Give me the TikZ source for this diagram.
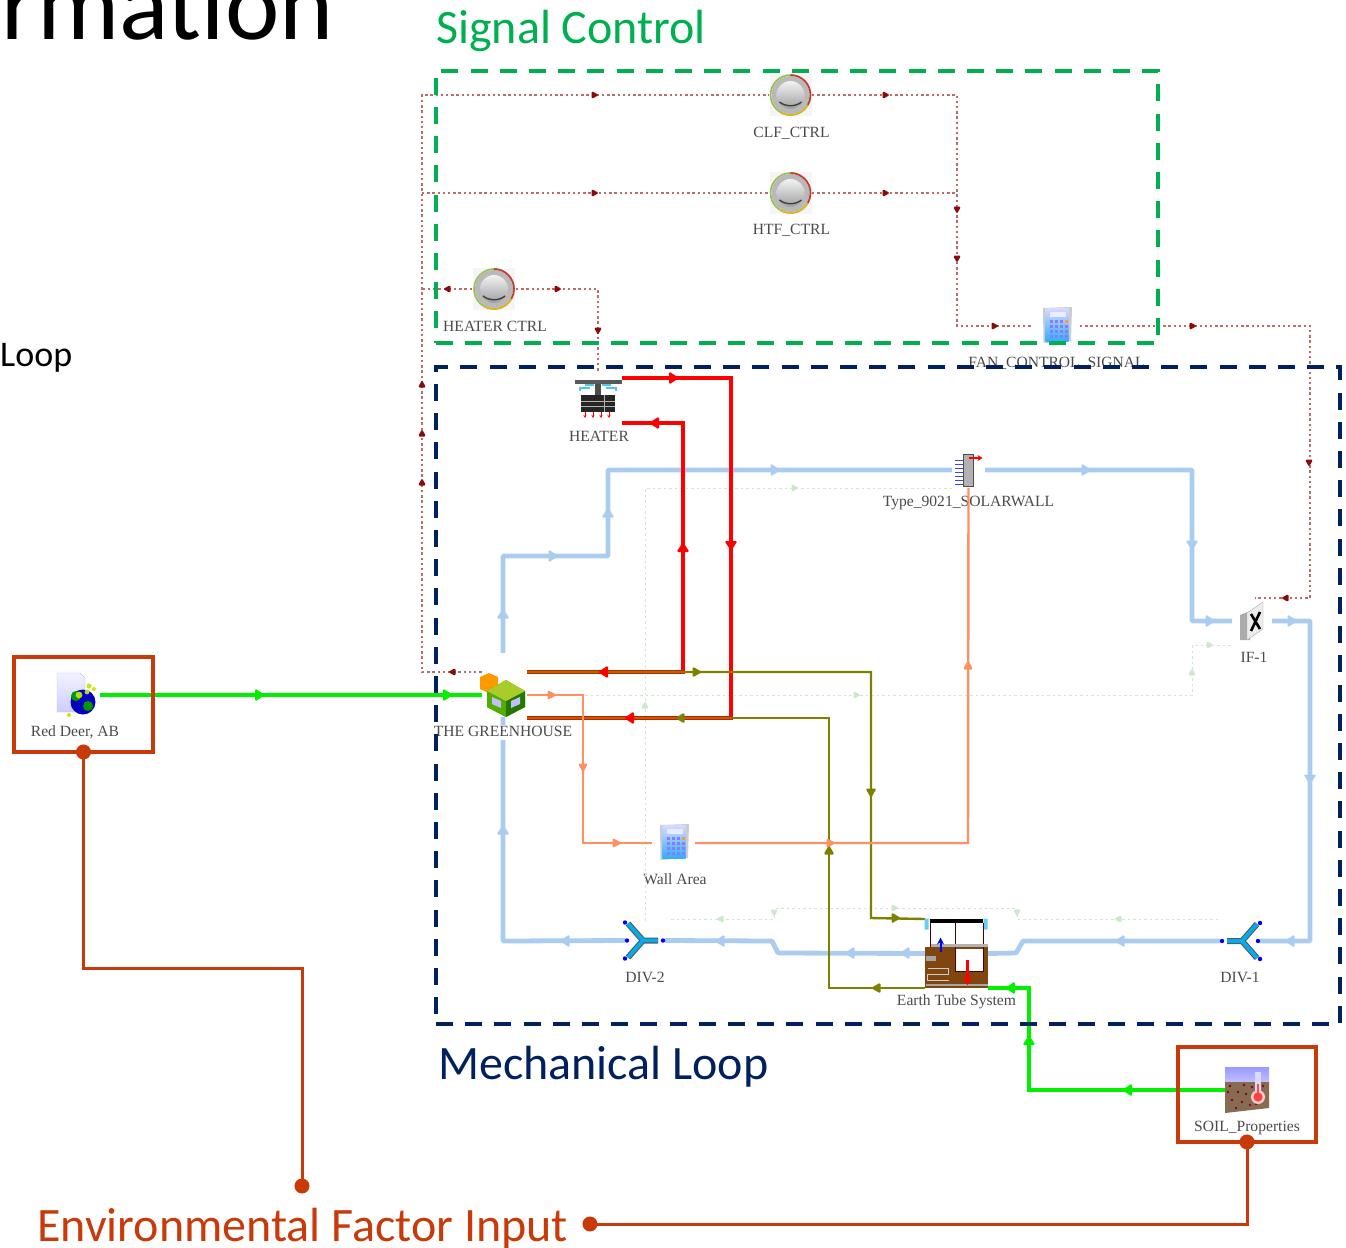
\documentclass[tikz,border=0pt]{standalone}
\usepackage{fontspec}
\setmainfont{Liberation Serif}
\newfontfamily\slidefont{Carlito}
\usetikzlibrary{arrows.meta}
\usetikzlibrary{positioning}
\definecolor{sigred}{HTML}{BC6A6A}
\definecolor{sigdark}{HTML}{8B0A0A}
\definecolor{airblue}{HTML}{A9CCF0}
\definecolor{hotred}{HTML}{FF0000}
\definecolor{liqolive}{HTML}{808000}
\definecolor{warmorange}{HTML}{FF9060}
\definecolor{earthlime}{HTML}{00F000}
\definecolor{faintgreen}{HTML}{CDE8CD}
\definecolor{groupgreen}{HTML}{00B050}
\definecolor{groupnavy}{HTML}{002060}
\definecolor{calloutred}{HTML}{C93A0A}
\definecolor{labgray}{HTML}{4A4A4A}
\definecolor{soilbrown}{HTML}{80460F}
\tikzset{
	dialicon/.pic={
		\fill[gray!8] (-21,-21) rectangle (21,21);
		\fill[gray!55] (0,0) circle (19);
		\draw[line width=1.6pt,color=yellow!55!green!70!gray] (0,0) circle (20);
		\draw[line width=1.6pt,color=red!60!gray] (0,-20) arc[start angle=270,end angle=390,radius=20];
		\draw[line width=1.6pt,color=orange!50!yellow!80!gray] (17.3,10) arc[start angle=30,end angle=120,radius=20];
		\shade[top color=gray!10,bottom color=gray!75] (0,0) circle (14);
		\draw[line width=1.4pt,color=black!75] (-11,7) .. controls (-5,12) and (5,12) .. (11,7);
	},
	calcicon/.pic={
		\fill[gray!40] (-13.5,-18) -- (15.5,-19) -- (14.5,15) -- (-13,17) -- cycle;
		\shade[top color=blue!15,bottom color=blue!40!cyan!80] (-11,-18) rectangle (12,15);
		\fill[blue!8] (-7,-14) rectangle (9,-9);
		\foreach \px in {-7,-2,3,8}
			\foreach \py in {-6,-1,4,9}
				\fill[blue!50] (\px,\py) rectangle +(3,3);
		\fill[orange!80] (8,-6) rectangle +(3,3);
	},
	heatericon/.pic={
		\fill[gray!70!black] (-23,-16) rectangle (24,-12);
		\fill[gray!60!black] (-3,-12) rectangle (3,0);
		\draw[cyan!70,line width=1.2pt] (-18,-5) -- (-18,-8) -- (-8,-8) (8,-8) -- (18,-8) -- (18,-5);
		\draw[cyan!70,line width=1.2pt] (-13,-11) -- (-4,-11) (4,-11) -- (13,-11);
		\fill[black!85] (-17,-1) rectangle (17,16);
		\draw[gray!60,line width=.8pt] (-17,5) -- (17,5) (-17,10) -- (17,10) (6,-1) -- (6,16);
		\foreach \px in {-13,-5,3,11}
			\draw[hotred,line width=1pt,-{Stealth[length=3pt,width=3pt]}] (\px,16) -- (\px,22);
	},
	wallicon/.pic={
		\foreach \py in {-10,-6,-2,2,6,10,14}
			\draw[blue!75,line width=1pt] (-14,\py) -- (-5,\py);
		\fill[gray!60,draw=black!70] (-5,-16) rectangle (5,16);
		\draw[hotred,line width=1.6pt,-{Stealth[length=5pt,width=6pt]}] (0,-12) -- (14,-12);
	},
	fanicon/.pic={
		\fill[gray!65] (-12,-6) -- (-2,-10) -- (-2,19) -- (-12,19) -- cycle;
		\fill[gray!15,draw=gray!65] (-5,-8) -- (11,-19) -- (11,8) -- (-5,19) -- cycle;
		\draw[black,line width=2.6pt] (-1,-7) -- (8,8) (8,-9) -- (-1,10);
	},
	cubeicon/.pic={
		\fill[orange!80!yellow] (-24,-8) -- (-15,-12) -- (-6,-8) -- (-6,4) -- (-15,8) -- (-24,4) -- cycle;
		\fill[green!55!olive] (-17,6) -- (2,-5) -- (21,6) -- (21,22) -- (2,32) -- (-17,22) -- cycle;
		\fill[green!35!olive] (-17,6) -- (2,16) -- (2,32) -- (-17,22) -- cycle;
		\fill[green!45!black!70!olive] (2,16) -- (21,6) -- (21,22) -- (2,32) -- cycle;
		\fill[yellow!70!green!90!black] (-17,6) -- (2,-5) -- (21,6) -- (2,16) -- cycle;
		\fill[blue!25] (-12,12) -- (-3,16) -- (-3,23) -- (-12,19) -- cycle;
		\fill[blue!25] (7,16) -- (16,12) -- (16,19) -- (7,23) -- cycle;
	},
	spliticon/.pic={
		\draw[black!65,line width=6pt,line join=round] (-17,-17) -- (-2,0) -- (-17,17) (-2,0) -- (13,0);
		\draw[cyan,line width=3.8pt,line join=round] (-17,-17) -- (-2,0) -- (-17,17) (-2,0) -- (13,0);
		\foreach \px/\py in {-20/-18,-20/18,-18/0,18/0}
			\fill[blue] (\px,\py) circle (2.2);
	},
	earthicon/.pic={
		\fill[cyan!60] (-32,-35) rectangle (-28,-24) (27,-35) rectangle (31,-24);
		\fill[soilbrown] (-32,-7) rectangle (31,34);
		\fill[white] (-28,-31) rectangle (27,-8);
		\fill[white] (-2,-5) rectangle (27,18);
		\draw[black,line width=4pt] (-27,-33) -- (26,-33);
		\draw[black!70!red,line width=1.8pt] (-26,-31) -- (-26,-7) (-1,-31) -- (-1,18) -- (27,18) -- (27,-7) (27,-31) -- (27,-10);
		\draw[gray!60,line width=2.6pt] (-26,-8) -- (31,-8);
		\fill[gray!70] (-31,2) rectangle (-21,7);
		\draw[gray!40,line width=1.8pt] (-29,15) -- (-8,15) -- (-8,21) -- (-29,21) -- (-29,27) -- (-8,27);
		\draw[gray!70,line width=2pt] (-31,31) -- (31,31);
		\draw[blue,line width=2pt,-{Stealth[length=7pt,width=7pt]}] (-16,-2) -- (-16,-16);
		\draw[hotred,line width=3pt,-{Stealth[length=9pt,width=9pt]}] (11,6) -- (11,32);
	},
	pageicon/.pic={
		\shade[top color=blue!5,bottom color=blue!20,draw=blue!25] (-21,-22) -- (2,-22) -- (7,-17) -- (7,17) -- (-21,17) -- cycle;
		\fill[yellow!80!green] (-9,20) circle (2) (11,-9) circle (2.5) (16,-6) circle (2);
		\fill[blue!75!black] (5,7) circle (12.5);
		\fill[green!60!black] (-2,1) circle (5) (10,11) circle (5);
		\fill[yellow!70!green] (1,0) circle (3.4) (9,-3) circle (2.4);
	},
	soilicon/.pic={
		\shade[top color=blue!40,bottom color=blue!25] (-23,-23) rectangle (21,-8);
		\fill[brown!50!gray!85!black] (-23,-8) -- (21,-8) -- (21,18) -- (-23,23) -- cycle;
		\foreach \px/\py in {-18/-4,-10/2,-4/-5,-16/10,-6/12,4/-3,15/-4,2/15,-12/18,-20/2,-2/4,8/14}
			\fill[purple!70!black] (\px,\py) circle (1.4);
		\fill[white!85!blue] (7,-18) rectangle (13,3);
		\fill[white!80!red] (10,7) circle (7);
		\draw[red!70,line width=1.6pt] (10,-6) -- (10,4);
		\fill[red!75] (10,7) circle (4.6);
	}
}
\begin{document}
\begin{tikzpicture}[x=1pt,y=-1pt,
		sig/.style={draw=sigred,line width=1.1pt,dash pattern=on 2.4pt off 2.8pt},
		air/.style={draw=airblue,line width=4.8pt,rounded corners=1pt},
		hot/.style={draw=hotred,line width=4.6pt},
		liq/.style={draw=liqolive,line width=2.4pt},
		warm/.style={draw=warmorange,line width=2.4pt},
		earthline/.style={draw=earthlime,line width=4.8pt},
		faint/.style={draw=faintgreen,line width=1pt,dash pattern=on 2.5pt off 3pt},
		callout/.style={draw=calloutred,line width=3pt,{Circle[length=15pt]}-{Circle[length=15pt]},shorten >=-7.5pt,shorten <=-7.5pt},
		framebox/.style={draw=calloutred,line width=4.6pt,inner sep=0,outer sep=0,minimum width=139pt,minimum height=95pt},
		groupbox/.style={line width=3.6pt,dash pattern=on 17pt off 12.2pt,inner sep=0,outer sep=0},
		iconbox/.style={inner sep=0,outer sep=0,label distance=0pt},
		whitebox/.style={iconbox,fill=white},
		lab/.style={font=\fontsize{15.6}{16}\selectfont,text=labgray,inner sep=0,text height=12pt,text depth=3pt},
		slidetext/.style={font=\slidefont\fontsize{48}{50}\selectfont,inner sep=0,anchor=base west},
		flowtip/.style={shift={(\px,\py)},rotate=\ang,rounded corners=1.5pt},
		]
		\useasboundingbox (0,0) rectangle (1346,1247);
		\clip (0,0) rectangle (1346,1247);

		\node (oldtitle) [slidetext,font=\slidefont\fontsize{103}{103}\selectfont] at (1,40) {rmation};
		\node (oldloop) [slidetext,font=\slidefont\fontsize{36}{40}\selectfont] at (0,366) {Loop};

		% bends of the connectors
		\coordinate (sigtop) at (422,95);
		\coordinate (sigmid) at (422,193);
		\coordinate (sigheat) at (422,289);
		\coordinate (sigbot) at (422,672);
		\coordinate (sigtopr) at (957,95);
		\coordinate (sigmidr) at (957,193);
		\coordinate (sigfanl) at (957,326);
		\coordinate (sigfanr) at (1310,326);
		\coordinate (sigfanb) at (1310,598);
		\coordinate (sigfan) at (1255,598);
		\coordinate (sigheatr) at (598,289);
		\coordinate (sigheatb) at (598,372);

		\node (clf) [iconbox,minimum size=43pt,label={[lab,xshift=1pt,yshift=-9pt]below:CLF\_CTRL}] at (790.5,95) {};
		\node (htf) [iconbox,minimum size=43pt,label={[lab,xshift=1pt,yshift=-8pt]below:HTF\_CTRL}] at (790.5,193) {};
		\node (heaterctrl) [iconbox,minimum size=44pt,label={[lab,xshift=1pt,yshift=-8pt]below:HEATER CTRL}] at (494,289) {};
		\node (fansignal) [iconbox,minimum width=47pt,minimum height=38pt,label={[lab,yshift=-10.5pt]below:FAN\_CONTROL\_SIGNAL}] at (1056.5,326) {};
		\node (heater) [iconbox,minimum width=48pt,minimum height=48pt,label={[lab,xshift=1pt,yshift=-9.5pt]below:HEATER}] at (598,396) {};
		\node (solar) [iconbox,minimum width=33pt,minimum height=36pt,label={[lab,yshift=-6.5pt]below:Type\_9021\_SOLARWALL}] at (968.5,470) {};
		\node (fan) [iconbox,minimum width=40pt,minimum height=40pt,label={[lab,xshift=2pt,yshift=-9.5pt]below:IF-1}] at (1252,621) {};
		\node (wall) [iconbox,minimum width=43pt,minimum height=38pt,label={[lab,xshift=1.5pt,yshift=-10.5pt]below:Wall Area}] at (673.5,843) {};
		\node (divtwo) [iconbox,minimum width=40pt,minimum height=40pt,label={[lab,yshift=-9.5pt]below:DIV-2}] at (645,940.5) {};
		\node (divone) [iconbox,minimum width=40pt,minimum height=40pt,label={[lab,yshift=-9.5pt]below:DIV-1}] at (1240,941) {};
		\node (earth) [iconbox,minimum width=63pt,minimum height=69pt,label={[lab,yshift=-5.5pt]below:Earth Tube System}] at (956.5,953.5) {};
		\node (soil) [iconbox,minimum width=40pt,minimum height=44pt,label={[lab,xshift=-1pt,yshift=-7.5pt]below:SOIL\_Properties}] at (1248,1090) {};
		\node (reddeer) [iconbox,minimum width=44pt,minimum height=40pt,label={[lab,xshift=-3pt,yshift=-9.5pt]below:{Red Deer, AB}}] at (78,695) {};
		\node (greenhouse) [iconbox,minimum width=45pt,minimum height=64pt] at (504,685) {};

		% control signals
		\draw[sig] (greenhouse.west |- sigbot) -- (sigbot) -- (sigtop) -- (clf.west);
		\draw[sig] (sigmid) -- (htf.west);
		\draw[sig] (heaterctrl.west) -- (sigheat);
		\draw[sig] (clf.east) -- (sigtopr) -- (sigfanl) -- (fansignal.west);
		\draw[sig] (htf.east) -- (sigmidr);
		\draw[sig] (fansignal.east) -- (sigfanr) -- (sigfanb) -- (sigfan);
		\draw[sig] (heaterctrl.east) -- (sigheatr) -- (sigheatb);
		\foreach \px/\py/\ang in {595/95/0,886/95/0,595/193/0,886/193/0,957/210/270,957/259/270,995/326/0,1193/326/0,1309/463/270,1285/598/180,447/289/180,558/289/0,598/331/270,422/384/90,422/433/90,422/482/90,452/672/180}
			\fill[sigdark,flowtip] (-3.5,-4) -- (4,0) -- (-3.5,4) -- cycle;

		% faint signals
		\coordinate (fainttl) at (645,488);
		\coordinate (faintfan) at (1192,695);
		\coordinate (faintfant) at (1192,645);
		\coordinate (faintl) at (671,919);
		\coordinate (faintlb) at (774,919);
		\coordinate (faintlt) at (774,908);
		\coordinate (faintrt) at (1017,908);
		\coordinate (faintrb) at (1017,919);
		\coordinate (faintr) at (1220,919);
		\draw[faint] (divtwo.north) -- (fainttl) -- (solar.south west);
		\draw[faint] (530,695) -- (faintfan) -- (faintfant) -- (fan.west |- faintfant);
		\draw[faint] (faintl) -- (faintlb) -- (faintlt) -- (faintrt) -- (faintrb) -- (faintr);
		\foreach \px/\py/\ang in {795/488/0,645/705/90,857/695/0,1192/672/90,1210/645/0,720/919/180,895/908/0,1118/919/180,774/913/270,1017/913/270}
			\fill[faintgreen,flowtip] (-3.5,-4) -- (4,0) -- (-3.5,4) -- cycle;

		% air loop
		\coordinate (airbl) at (503,941);
		\coordinate (airml) at (503,556);
		\coordinate (airmr) at (608,556);
		\coordinate (airtl) at (608,470);
		\coordinate (airtr) at (1192,470);
		\coordinate (airfan) at (1192,621);
		\coordinate (airfanr) at (1310,621);
		\coordinate (airdiv) at (1310,941);
		\coordinate (airjogl) at (772,941);
		\coordinate (airjogld) at (778,953);
		\coordinate (airjogr) at (1023,941);
		\coordinate (airjogrd) at (1016,953);
		\draw[air] (divtwo.west) -- (airbl) -- (airml) -- (airmr) -- (airtl) -- (solar.west);
		\draw[air] (solar.east) -- (airtr) -- (airfan) -- (fan.west);
		\draw[air] (fan.east) -- (airfanr) -- (airdiv) -- (divone.east);
		\draw[air] (divone.west) -- (airjogr) -- (airjogrd) -- (earth.east);
		\draw[air] (earth.west) -- (airjogld) -- (airjogl) -- (divtwo.east);
		\foreach \px/\py/\ang in {553/556/0,608/513/90,503/614/90,503/830/90,565/941/180,720/941/180,850/953/180,905/953/180,1120/941/180,1290/941/180,1310/779/270,1292/621/0,1210/621/0,1192/545/270,1086/470/0,775/470/0}
			\fill[airblue,flowtip] (-4.5,-6.5) -- (5.5,0) -- (-4.5,6.5) -- cycle;

		% hot water and its return
		\coordinate (hotot) at (731,378);
		\coordinate (hotob) at (731,718);
		\coordinate (hotit) at (683,423);
		\coordinate (hotib) at (683,672);
		\coordinate (liqitr) at (871,672);
		\coordinate (liqitb) at (871,918);
		\coordinate (liqobr) at (829,718);
		\coordinate (liqobb) at (829,988);
		\draw[hot] (heater.east |- hotot) -- (hotot) -- (hotob) -- (greenhouse.east |- hotob);
		\draw[hot] (heater.east |- hotit) -- (hotit) -- (hotib) -- (greenhouse.east |- hotib);
		\draw[liq] (greenhouse.east |- hotib) -- (liqitr) -- (liqitb) -- (earth.north west);
		\draw[liq] (greenhouse.east |- hotob) -- (liqobr) -- (liqobb) -- (earth.south west);
		\foreach \px/\py/\ang in {674/378/0,654/423/180,731/546/270,683/547/90,603/672/180,629/718/180}
			\fill[hotred,flowtip] (-5,-6.5) -- (5,0) -- (-5,6.5) -- cycle;
		\foreach \px/\py/\ang in {697/672/0,871/793/270,896/918/0,680/718/180,829/850/90,876/988/180}
			\fill[liqolive,flowtip] (-4.5,-5.5) -- (5,0) -- (-4.5,5.5) -- cycle;

		% greenhouse air to the wall
		\coordinate (warmt) at (583,695);
		\coordinate (warmb) at (583,843);
		\coordinate (warmr) at (968,843);
		\draw[warm] (greenhouse.east |- warmt) -- (warmt) -- (warmb) -- (wall.west);
		\draw[warm] (wall.east) -- (warmr) -- (solar.south);
		\foreach \px/\py/\ang in {552/695/0,583/768/270,617/843/0,831/843/0,968/665/90}
			\fill[warmorange,flowtip] (-4.5,-5) -- (5,0) -- (-4.5,5) -- cycle;

		% weather and soil data
		\coordinate (soilc) at (1029,1090);
		\coordinate (soild) at (1029,988);
		\draw[earthline] (reddeer.east) -- (greenhouse.west |- reddeer);
		\draw[earthline] (soil.west) -- (soilc) -- (soild) -- (earth.south east);
		\foreach \px/\py/\ang in {260/695/0,448/695/0,1127/1090/180,1029/1040/90,1010/988/180}
			\fill[earthlime,flowtip] (-5,-6.5) -- (5,0) -- (-5,6.5) -- cycle;

		\node (greenhousefill) [whitebox,minimum width=45pt,minimum height=64pt,label={[lab,fill=white,xshift=-1pt,yshift=-7.5pt]below:THE GREENHOUSE}] at (greenhouse) {};
		\pic at (clf) {dialicon};
		\pic at (htf) {dialicon};
		\pic at (heaterctrl) {dialicon};
		\pic at (fansignal) {calcicon};
		\pic at (wall) {calcicon};
		\pic at (heater) {heatericon};
		\pic at (solar) {wallicon};
		\pic at (fan) {fanicon};
		\pic at (greenhouse) {cubeicon};
		\pic at (divtwo) {spliticon};
		\pic[xscale=-1] at (divone) {spliticon};
		\pic at (earth) {earthicon};
		\pic at (reddeer) {pageicon};
		\pic at (soil) {soilicon};

		\node (sigframe) [groupbox,draw=groupgreen,minimum width=722pt,minimum height=272pt] at (797,207) {};
		\node (mechframe) [groupbox,draw=groupnavy,minimum width=904pt,minimum height=657pt] at (888,695.5) {};
		\node (sigtitle) [slidetext,text=groupgreen] at (436,44) {Signal Control};
		\node (mechtitle) [slidetext,text=groupnavy] at (438,1079) {Mechanical Loop};

		\node (deerframe) [framebox] at (83.5,704.5) {};
		\node (soilframe) [framebox,minimum width=138pt] at (1247,1094.5) {};
		\node (envtext) [slidetext,text=calloutred] at (37,1241) {Environmental Factor Input};
		\coordinate (envbend) at (302,968);
		\coordinate (envtop) at (302,1186);
		\coordinate (envdot) at (590,1224);
		\draw[callout] (deerframe.south) |- (envbend) -- (envtop);
		\draw[callout] (soilframe.south) |- (envdot);
	\end{tikzpicture}
\end{document}
